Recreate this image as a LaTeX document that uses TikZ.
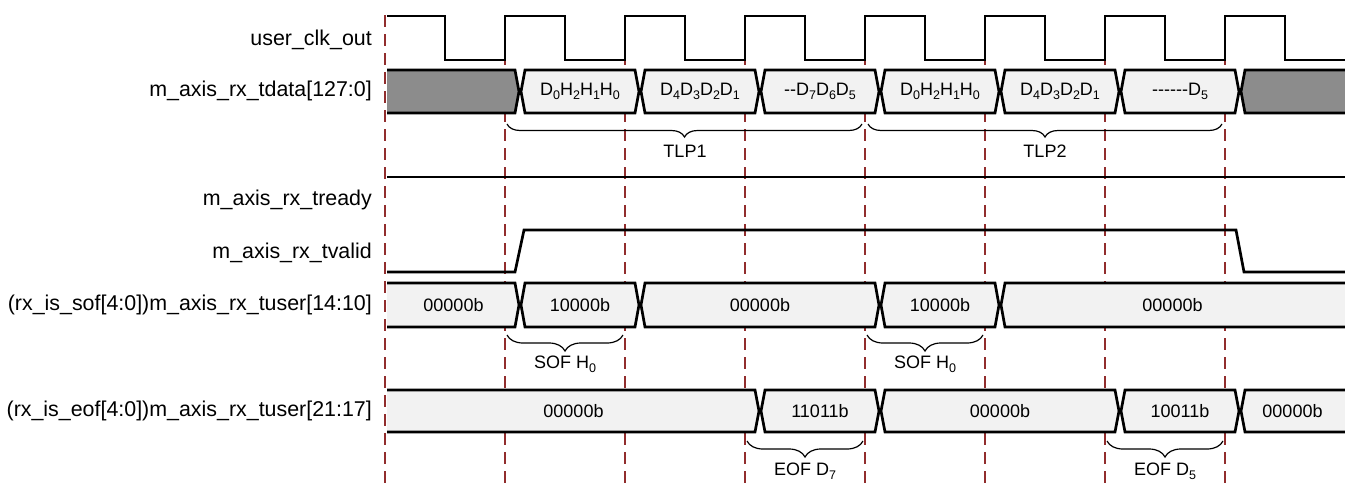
\documentclass[tikz,border=0pt]{standalone}
\usepackage{fontspec}
\setmainfont{Liberation Sans}
\usetikzlibrary{decorations.pathreplacing}
\definecolor{guide}{RGB}{145,45,45}
\definecolor{busfill}{RGB}{242,242,242}
\definecolor{idlefill}{RGB}{140,140,140}
\newcommand{\hy}{\mbox{-}}
\newcommand{\sbs}[1]{\raisebox{-0.24em}{\fontsize{12.5}{12.5}\selectfont #1}}
\tikzset{
  sig/.style={line width=2.7pt, line join=miter},
  guideline/.style={draw=guide, line width=1.3pt, dash pattern=on 12pt off 7pt},
  lbl/.style={anchor=east, font=\fontsize{21.4}{24}\selectfont, inner sep=0pt},
  val/.style={font=\fontsize{18}{21}\selectfont, inner sep=0pt},
  brc/.style={decorate, decoration={brace, mirror, amplitude=#1}, line width=1.2pt},
  brc/.default=14,
}
% middle bus segment: x1 x2 top bot fill text name
\newcommand{\busseg}[7]{%
  \pgfmathsetmacro\busmidy{(#3+#4)/2}
  \filldraw[sig, fill=#5] (#1+1,\busmidy) -- (#1+5,#3) -- (#2-5,#3) -- (#2-1,\busmidy) -- (#2-5,#4) -- (#1+5,#4) -- cycle;
  \node[val] (#7) at ({(#1+#2)/2},\busmidy) {#6};
}
% left edge segment: x2 top bot fill text name
\newcommand{\busleft}[6]{%
  \pgfmathsetmacro\busmidy{(#2+#3)/2}
  \fill[#4] (387,#2) -- (#1-5,#2) -- (#1-1,\busmidy) -- (#1-5,#3) -- (387,#3) -- cycle;
  \draw[sig] (387,#2) -- (#1-5,#2) -- (#1-1,\busmidy) -- (#1-5,#3) -- (387,#3);
  \node[val] (#6) at ({(387+#1)/2},\busmidy) {#5};
}
% right edge segment: x1 top bot fill text name
\newcommand{\busright}[6]{%
  \pgfmathsetmacro\busmidy{(#2+#3)/2}
  \fill[#4] (1346,#2) -- (#1+5,#2) -- (#1+1,\busmidy) -- (#1+5,#3) -- (1346,#3) -- cycle;
  \draw[sig] (1346,#2) -- (#1+5,#2) -- (#1+1,\busmidy) -- (#1+5,#3) -- (1346,#3);
  \node[val] (#6) at ({(#1+1345)/2},\busmidy) {#5};
}
\begin{document}
\begin{tikzpicture}[x=1pt,y=-1pt]
\useasboundingbox (0,0) rectangle (1345,485);
\fill[white] (0,0) rectangle (1345,485);

% guide lines
\foreach \gx in {385,505,...,1225}
  \draw[guideline] (\gx,15) -- (\gx,485);

% labels
\node[lbl] (lclk) at (372,40) {user\_clk\_out};
\node[lbl] (ldata) at (372,91) {m\_axis\_rx\_tdata[127:0]};
\node[lbl] (lrdy) at (372,200) {m\_axis\_rx\_tready};
\node[lbl] (lvld) at (372,253) {m\_axis\_rx\_tvalid};
\node[lbl] (lsof) at (372,305) {(rx\_is\_sof[4:0])m\_axis\_rx\_tuser[14:10]};
\node[lbl] (leof) at (372,411) {(rx\_is\_eof[4:0])m\_axis\_rx\_tuser[21:17]};

% clock
\draw[sig] (387,16) -- (445,16)
  \foreach \k in {0,...,6} {
    -- ({445+120*\k},60) -- ({505+120*\k},60) -- ({505+120*\k},16) -- ({565+120*\k},16)
  } -- (1285,60) -- (1346,60);

% tdata
\busleft{520}{70}{113}{idlefill}{}{d0}
\busseg{520}{640}{70}{113}{busfill}{D\sbs{0}H\sbs{2}H\sbs{1}H\sbs{0}}{d1}
\busseg{640}{760}{70}{113}{busfill}{D\sbs{4}D\sbs{3}D\sbs{2}D\sbs{1}}{d2}
\busseg{760}{880}{70}{113}{busfill}{\hy\hy D\sbs{7}D\sbs{6}D\sbs{5}}{d3}
\busseg{880}{1000}{70}{113}{busfill}{D\sbs{0}H\sbs{2}H\sbs{1}H\sbs{0}}{d4}
\busseg{1000}{1120}{70}{113}{busfill}{D\sbs{4}D\sbs{3}D\sbs{2}D\sbs{1}}{d5}
\busseg{1120}{1240}{70}{113}{busfill}{\hy\hy\hy\hy\hy\hy D\sbs{5}}{d6}
\busright{1240}{70}{113}{idlefill}{}{d7}

% TLP braces
\draw[brc=13] (507,124) -- (862,124);
\node[val] (tlp1) at (685,151) {TLP1};
\draw[brc=13] (868,124) -- (1222,124);
\node[val] (tlp2) at (1045,151) {TLP2};

% tready
\draw[sig] (387,177) -- (1346,177);

% tvalid
\draw[sig] (387,272) -- (515,272) -- (524,230) -- (1236,230) -- (1244,272) -- (1346,272);

% sof
\busleft{520}{283}{327}{busfill}{00000b}{s0}
\busseg{520}{640}{283}{327}{busfill}{10000b}{s1}
\busseg{640}{880}{283}{327}{busfill}{00000b}{s2}
\busseg{880}{1000}{283}{327}{busfill}{10000b}{s3}
\busright{1000}{283}{327}{busfill}{00000b}{s4}

\draw[brc=16] (507,335) -- (623,335);
\node[val] (sofa) at (565,364) {SOF H\sbs{0}};
\draw[brc=16] (867,335) -- (983,335);
\node[val] (sofb) at (925,364) {SOF H\sbs{0}};

% eof
\busleft{760}{390}{432}{busfill}{00000b}{e0}
\busseg{760}{880}{390}{432}{busfill}{11011b}{e1}
\busseg{880}{1120}{390}{432}{busfill}{00000b}{e2}
\busseg{1120}{1240}{390}{432}{busfill}{10011b}{e3}
\busright{1240}{390}{432}{busfill}{00000b}{e4}

\draw[brc=16] (747,441) -- (863,441);
\node[val] (eofa) at (805,471) {EOF D\sbs{7}};
\draw[brc=16] (1107,441) -- (1223,441);
\node[val] (eofb) at (1165,471) {EOF D\sbs{5}};
\end{tikzpicture}
\end{document}
